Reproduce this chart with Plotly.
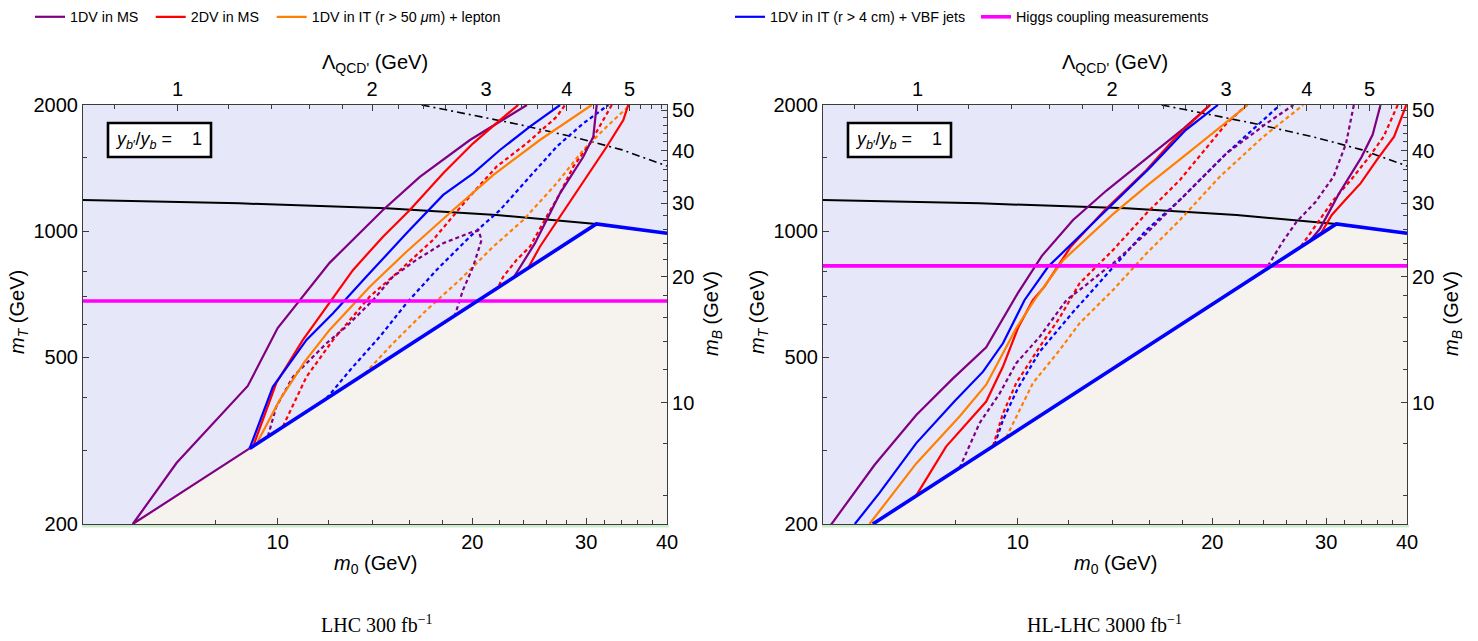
import math
import plotly.graph_objects as go

# ---------------- data ----------------
# kinematic boundary (shared by both panels)
BOUND_M0 = [5.97, 9.05, 31.1, 40.0]
BOUND_MT = [200, 303, 1040, 988]

# black solid and dash-dot curves (shared)
BLACK_M0 = [5.0, 8.73, 14.73, 21.8, 31.1, 40.0]
BLACK_MT = [1187, 1165, 1134, 1093, 1040, 988]
DASHDOT_M0 = [16.7, 23.3, 28.8, 34.1, 40.0]
DASHDOT_MT = [2000, 1805, 1675, 1563, 1430]

# Higgs coupling measurement limits
HIGGS_MT_LHC = 681
HIGGS_MT_HL = 826

# ---- LHC 300 fb^-1 ----
LHC_PURPLE_A_M0 = [9.05, 5.97, 6.98, 8.99, 10.0, 10.82, 12.03, 14.55, 16.59, 19.83, 21.80, 24.29]
LHC_PURPLE_A_MT = [303, 200, 280, 427, 587, 685, 840, 1123, 1347, 1650, 1808, 2000]
LHC_PURPLE_B_M0 = [31.14, 30.77, 29.69, 27.33, 26.06, 25.0, 23.13]
LHC_PURPLE_B_MT = [2000, 1680, 1505, 1231, 1063, 936, 772]
LHC_RED_A_M0 = [9.16, 9.95, 10.94, 12.03, 13.08, 14.55, 16.01, 18.03, 20.06, 22.07, 23.55]
LHC_RED_A_MT = [306, 434, 550, 673, 808, 970, 1123, 1374, 1620, 1841, 2000]
LHC_RED_B_M0 = [34.85, 34.24, 32.27, 30.77, 28.65, 26.85, 25.44, 24.41]
LHC_RED_B_MT = [2000, 1841, 1590, 1425, 1209, 1044, 918, 818]
LHC_BLUE_M0 = [9.05, 9.83, 11.08, 12.18, 13.72, 15.82, 18.03, 20.06, 22.07, 24.55, 27.33]
LHC_BLUE_MT = [303, 425, 550, 637, 779, 988, 1220, 1374, 1562, 1775, 2000]
LHC_ORANGE_M0 = [9.32, 10.07, 11.01, 12.03, 13.88, 15.82, 18.68, 21.54, 25.44, 30.59]
LHC_ORANGE_MT = [315, 395, 488, 581, 737, 893, 1123, 1361, 1650, 2000]

LHC_PURPLE_D_M0 = [9.66, 9.95, 10.56, 11.9, 12.77, 14.05, 15.08, 16.39, 18.03, 20.06, 20.45, 20.67, 20.06, 19.35, 18.79]
LHC_PURPLE_D_MT = [324, 381, 449, 540, 592, 685, 779, 854, 936, 997, 1003, 953, 823, 724, 629]
LHC_RED_DA_M0 = [10.19, 11.08, 12.18, 13.88, 15.27, 17.39, 19.60, 21.80, 24.27, 27.01, 27.82]
LHC_RED_DA_MT = [342, 449, 550, 698, 793, 953, 1187, 1425, 1620, 1875, 2000]
LHC_RED_DB_M0 = [32.86, 30.41, 28.65, 27.33, 26.06, 24.55, 23.42, 22.33, 21.93]
LHC_RED_DB_MT = [2000, 1620, 1425, 1231, 1083, 918, 854, 779, 735]
LHC_BLUE_D_M0 = [11.9, 13.08, 14.39, 15.82, 17.61, 19.83, 22.07, 24.27, 27.01, 29.69, 32.46]
LHC_BLUE_D_MT = [399, 475, 560, 673, 808, 970, 1123, 1325, 1591, 1808, 2000]
LHC_ORANGE_D_M0 = [13.64, 15.08, 16.99, 19.13, 21.54, 23.98, 27.01, 29.69, 32.27, 35.06]
LHC_ORANGE_D_MT = [457, 540, 648, 765, 918, 1063, 1301, 1562, 1775, 2000]

# ---- HL-LHC 3000 fb^-1 ----
HL_PURPLE_A_M0 = [5.13, 6.01, 6.97, 7.93, 8.94, 10.0, 10.9, 12.18, 13.72, 16.22, 18.07, 19.84]
HL_PURPLE_A_MT = [198, 277, 364, 444, 528, 710, 873, 1063, 1250, 1534, 1759, 2000]
HL_PURPLE_B_M0 = [36.4, 35.4, 34.0, 32.6, 31.4, 30.3, 29.3, 28.3]
HL_PURPLE_B_MT = [2000, 1700, 1500, 1350, 1230, 1110, 1010, 947]
HL_RED_A_M0 = [6.97, 7.75, 8.94, 9.49, 10.01, 10.56, 11.0, 12.08, 13.64, 15.82, 17.59, 19.84]
HL_RED_A_MT = [234, 306, 392, 475, 587, 685, 737, 918, 1123, 1399, 1680, 2000]
HL_RED_B_M0 = [39.9, 38.2, 36.0, 33.9, 32.1, 30.6, 29.3]
HL_RED_B_MT = [2000, 1680, 1485, 1300, 1187, 1093, 975]
HL_BLUE_M0 = [5.6, 6.11, 6.97, 7.98, 8.84, 9.49, 10.25, 11.15, 12.75, 14.39, 16.0, 18.19, 20.4]
HL_BLUE_MT = [200, 237, 312, 392, 462, 540, 685, 823, 1006, 1209, 1415, 1743, 2000]
HL_ORANGE_M0 = [5.9, 6.97, 8.13, 8.94, 9.49, 9.95, 10.62, 11.77, 14.0, 15.9, 18.31, 20.65, 22.69]
HL_ORANGE_MT = [200, 279, 361, 430, 511, 587, 685, 854, 1093, 1290, 1534, 1775, 2000]

HL_PURPLE_DA_M0 = [8.13, 8.73, 9.38, 9.95, 10.82, 11.9, 12.47, 14.05, 15.82, 17.61, 21.04, 24.27, 26.69]
HL_PURPLE_DA_MT = [272, 348, 410, 484, 560, 685, 724, 838, 988, 1165, 1534, 1808, 2000]
HL_PURPLE_DB_M0 = [33.1, 32.2, 30.8, 28.9, 27.0, 25.7, 24.25]
HL_PURPLE_DB_MT = [2000, 1620, 1350, 1175, 1053, 944, 815]
HL_RED_DA_M0 = [9.16, 9.49, 9.95, 10.82, 11.61, 12.47, 14.05, 15.82, 17.82, 21.04, 22.6]
HL_RED_DA_MT = [307, 367, 434, 530, 621, 751, 902, 1103, 1325, 1808, 2000]
HL_RED_DB_M0 = [38.7, 36.8, 34.8, 32.6, 30.8, 29.3, 27.9, 27.4]
HL_RED_DB_MT = [2000, 1680, 1490, 1313, 1187, 1063, 953, 918]
HL_BLUE_D_M0 = [9.21, 9.49, 10.01, 10.82, 12.18, 13.72, 15.82, 17.82, 21.04, 25.44]
HL_BLUE_D_MT = [309, 354, 422, 516, 641, 786, 1006, 1187, 1534, 2000]
HL_ORANGE_D_M0 = [9.6, 9.95, 10.56, 11.61, 12.47, 14.05, 15.82, 17.82, 20.54, 23.98, 27.64]
HL_ORANGE_D_MT = [322, 361, 434, 520, 603, 724, 885, 1063, 1349, 1680, 2000]

# ticks
M0_TICKS = [10, 20, 30, 40]
M0_MINOR = [8, 12, 14, 16, 18, 22, 24, 26, 28, 32, 34, 36, 38]
MT_TICKS = [200, 500, 1000, 2000]
MT_MINOR = [300, 400, 600, 700, 800, 1500]
LAMBDA_TICKS = [1, 2, 3, 4, 5]
LAMBDA_MINOR = [0.8, 1.2, 1.4, 1.6, 1.8, 2.2, 2.4, 2.6, 2.8, 3.2, 3.4, 3.6, 3.8,
                4.2, 4.4, 4.6, 4.8, 5.2, 5.4, 5.6]
MB_TICKS = [10, 20, 30, 40, 50]
MB_MINOR = [6, 8, 12, 14, 16, 18, 22, 24, 26, 28, 32, 34, 36, 38, 42, 44, 46, 48]

M0_RANGE = [5, 40]
MT_RANGE = [200, 2000]
LAMBDA_PER_M0 = 1 / 7.0     # Lambda_QCD' = m0 / 7
MB_PER_MT = 1 / 38.9        # m_B = m_T / 38.9

LEGEND_NAMES = ["1DV in MS", "2DV in MS", "1DV in IT (r > 50 <i>μ</i>m) + lepton",
                "1DV in IT (r > 4 cm) + VBF jets", "Higgs coupling measurements"]

# ---------------- styling ----------------
W, H = 1478, 641
FONT = "Liberation Sans, Arial, sans-serif"
SERIF = "Liberation Serif, DejaVu Serif, serif"
PURPLE = "rgb(128,0,128)"
RED = "rgb(255,0,0)"
ORANGE = "rgb(255,128,0)"
BLUE = "rgb(0,0,255)"
MAGENTA = "rgb(255,0,255)"
LAVENDER = "rgb(231,231,250)"
BEIGE = "rgb(246,243,238)"
AXC = "#3c3c3c"

L_DOM = [83 / W, 667 / W]
R_DOM = [823 / W, 1407 / W]
Y_DOM = [1 - 524 / H, 1 - 105 / H]


def join(ax, ay, bx, by):
    return list(ax) + [None] + list(bx), list(ay) + [None] + list(by)


def line(xs, ys, color, width, xa, ya, dash="solid", name=None, legend=None):
    kw = dict(x=xs, y=ys, mode="lines", xaxis=xa, yaxis=ya, hoverinfo="skip",
              line=dict(color=color, width=width, dash=dash))
    if name is None:
        kw["showlegend"] = False
    else:
        kw["name"] = name
        kw["showlegend"] = True
        kw["legend"] = legend
    return go.Scatter(**kw)


DASH = "4px,3px"
fig = go.Figure()


def panel(xa, ya, xa_top, ya_right, c, higgs, left_bound_purple, with_legend):
    # excluded (kinematically forbidden) region
    fig.add_trace(go.Scatter(x=[BOUND_M0[0], BOUND_M0[2], BOUND_M0[3], BOUND_M0[3]],
                             y=[BOUND_MT[0], BOUND_MT[2], BOUND_MT[3], MT_RANGE[0]],
                             fill="toself", fillcolor=BEIGE, mode="none",
                             xaxis=xa, yaxis=ya, hoverinfo="skip", showlegend=False))
    fig.add_trace(line(DASHDOT_M0, DASHDOT_MT, "black", 1.6, xa, ya, dash="8px,4px,2px,4px"))
    fig.add_trace(line(BLACK_M0, BLACK_MT, "black", 2, xa, ya))
    # dashed curves
    for (mx, my), col in c["dashed"]:
        fig.add_trace(line(mx, my, col, 2.2, xa, ya, dash=DASH))
    # solid curves
    names = LEGEND_NAMES if with_legend else [None] * 5
    legs = ["legend", "legend2", "legend3", "legend4", "legend5"]
    for i, ((mx, my), col) in enumerate(c["solid"]):
        fig.add_trace(line(mx, my, col, 2.2, xa, ya, name=names[i], legend=legs[i]))
    fig.add_trace(line(M0_RANGE, [higgs, higgs], MAGENTA, 3.6, xa, ya,
                       name=names[4], legend=legs[4]))
    start = 1 if left_bound_purple else 0
    fig.add_trace(line(BOUND_M0[start:], BOUND_MT[start:], BLUE, 3.6, xa, ya))
    # invisible trace so the secondary (top / right) axes are drawn
    fig.add_trace(go.Scatter(x=[1.0], y=[10.0], mode="markers", marker=dict(opacity=0),
                             xaxis=xa_top, yaxis=ya_right, hoverinfo="skip", showlegend=False))


lhc = dict(
    solid=[(join(LHC_PURPLE_A_M0, LHC_PURPLE_A_MT, LHC_PURPLE_B_M0, LHC_PURPLE_B_MT), PURPLE),
           (join(LHC_RED_A_M0, LHC_RED_A_MT, LHC_RED_B_M0, LHC_RED_B_MT), RED),
           ((LHC_ORANGE_M0, LHC_ORANGE_MT), ORANGE),
           ((LHC_BLUE_M0, LHC_BLUE_MT), BLUE)],
    dashed=[((LHC_ORANGE_D_M0, LHC_ORANGE_D_MT), ORANGE),
            ((LHC_BLUE_D_M0, LHC_BLUE_D_MT), BLUE),
            (join(LHC_RED_DA_M0, LHC_RED_DA_MT, LHC_RED_DB_M0, LHC_RED_DB_MT), RED),
            ((LHC_PURPLE_D_M0, LHC_PURPLE_D_MT), PURPLE)],
)
hl = dict(
    solid=[(join(HL_PURPLE_A_M0, HL_PURPLE_A_MT, HL_PURPLE_B_M0, HL_PURPLE_B_MT), PURPLE),
           (join(HL_RED_A_M0, HL_RED_A_MT, HL_RED_B_M0, HL_RED_B_MT), RED),
           ((HL_ORANGE_M0, HL_ORANGE_MT), ORANGE),
           ((HL_BLUE_M0, HL_BLUE_MT), BLUE)],
    dashed=[((HL_ORANGE_D_M0, HL_ORANGE_D_MT), ORANGE),
            ((HL_BLUE_D_M0, HL_BLUE_D_MT), BLUE),
            (join(HL_RED_DA_M0, HL_RED_DA_MT, HL_RED_DB_M0, HL_RED_DB_MT), RED),
            (join(HL_PURPLE_DA_M0, HL_PURPLE_DA_MT, HL_PURPLE_DB_M0, HL_PURPLE_DB_MT), PURPLE)],
)

panel("x", "y", "x3", "y3", lhc, HIGGS_MT_LHC, True, True)
panel("x2", "y2", "x4", "y4", hl, HIGGS_MT_HL, False, False)


def lg(v):
    return [math.log10(v[0]), math.log10(v[1])]


def axis(rng, ticks, minor, **kw):
    d = dict(type="log", range=lg(rng), showgrid=False, zeroline=False, showline=True,
             linecolor=AXC, linewidth=1.2, ticks="inside", ticklen=6, tickwidth=1,
             tickcolor=AXC, tickmode="array", tickvals=ticks,
             ticktext=[str(t) for t in ticks], automargin=False,
             tickfont=dict(family=FONT, size=20, color="black"),
             minor=dict(ticks="inside", ticklen=3.5, tickwidth=1, tickcolor=AXC,
                        tickmode="array", tickvals=minor, showgrid=False),
             fixedrange=True)
    d.update(kw)
    return d


lam_rng = [M0_RANGE[0] * LAMBDA_PER_M0, M0_RANGE[1] * LAMBDA_PER_M0]
mb_rng = [MT_RANGE[0] * MB_PER_MT, MT_RANGE[1] * MB_PER_MT]

layout = dict(
    width=W, height=H, margin=dict(l=0, r=0, t=0, b=0, autoexpand=False),
    paper_bgcolor="white", plot_bgcolor=LAVENDER,
    xaxis=axis(M0_RANGE, M0_TICKS, M0_MINOR, domain=L_DOM, anchor="y"),
    yaxis=axis(MT_RANGE, MT_TICKS, MT_MINOR, domain=Y_DOM, anchor="x"),
    xaxis2=axis(M0_RANGE, M0_TICKS, M0_MINOR, domain=R_DOM, anchor="y2"),
    yaxis2=axis(MT_RANGE, MT_TICKS, MT_MINOR, domain=Y_DOM, anchor="x2"),
    xaxis3=axis(lam_rng, LAMBDA_TICKS, LAMBDA_MINOR, overlaying="x", side="top", anchor="y"),
    yaxis3=axis(mb_rng, MB_TICKS, MB_MINOR, overlaying="y", side="right", anchor="x"),
    xaxis4=axis(lam_rng, LAMBDA_TICKS, LAMBDA_MINOR, overlaying="x2", side="top", anchor="y2"),
    yaxis4=axis(mb_rng, MB_TICKS, MB_MINOR, overlaying="y2", side="right", anchor="x2"),
)
# legends: one per entry so each can sit where it is in the reference
leg_left_px = [30, 150.7, 271.7, 730, 976]
for i, lx in enumerate(leg_left_px):
    key = "legend" if i == 0 else f"legend{i + 1}"
    layout[key] = dict(x=lx / W, y=1 - 17 / H, xanchor="left", yanchor="middle",
                       orientation="h", bgcolor="rgba(0,0,0,0)", borderwidth=0,
                       font=dict(family=FONT, size=14.3, color="black"))
fig.update_layout(**layout)


# annotations / shapes
def pa(xp, yp, text, size=20, angle=0, family=FONT, **kw):
    fig.add_annotation(x=xp / W, y=1 - yp / H, xref="paper", yref="paper", text=text,
                       showarrow=False, textangle=angle, xanchor="center", yanchor="middle",
                       font=dict(family=family, size=size, color="black"), **kw)


for off in (0, 740):
    pa(375 + off, 564, "<i>m</i><sub>0</sub> (GeV)")
    pa(18 + off, 312, "<i>m</i><sub><i>T</i></sub> (GeV)", angle=-90)
    pa(375 + off, 63, "Λ<sub>QCD'</sub> (GeV)")
    pa(712 + off, 314, "<i>m</i><sub><i>B</i></sub> (GeV)", angle=-90)
    fig.add_shape(type="rect", xref="paper", yref="paper",
                  x0=(108 + off) / W, x1=(211 + off) / W, y0=1 - 157 / H, y1=1 - 123 / H,
                  line=dict(color="black", width=2.6), fillcolor="white", layer="above")
    pa(158 + off, 140, "<i>y</i><sub><i>b</i>′</sub>/<i>y</i><sub><i>b</i></sub> =\u00a0\u00a0\u00a0 1", size=18)
    fig.add_shape(type="rect", xref="paper", yref="paper",
                  x0=(82 + off) / W, x1=(669 + off) / W, y0=1 - 527.5 / H, y1=1 - 524.5 / H,
                  line=dict(width=0), fillcolor="rgb(205,236,205)", layer="below")

pa(377, 624, "LHC 300 fb<sup>−1</sup>", size=20, family=SERIF)
pa(1104, 624, "HL-LHC 3000 fb<sup>−1</sup>", size=20, family=SERIF)

fig.write_html("out.html")
